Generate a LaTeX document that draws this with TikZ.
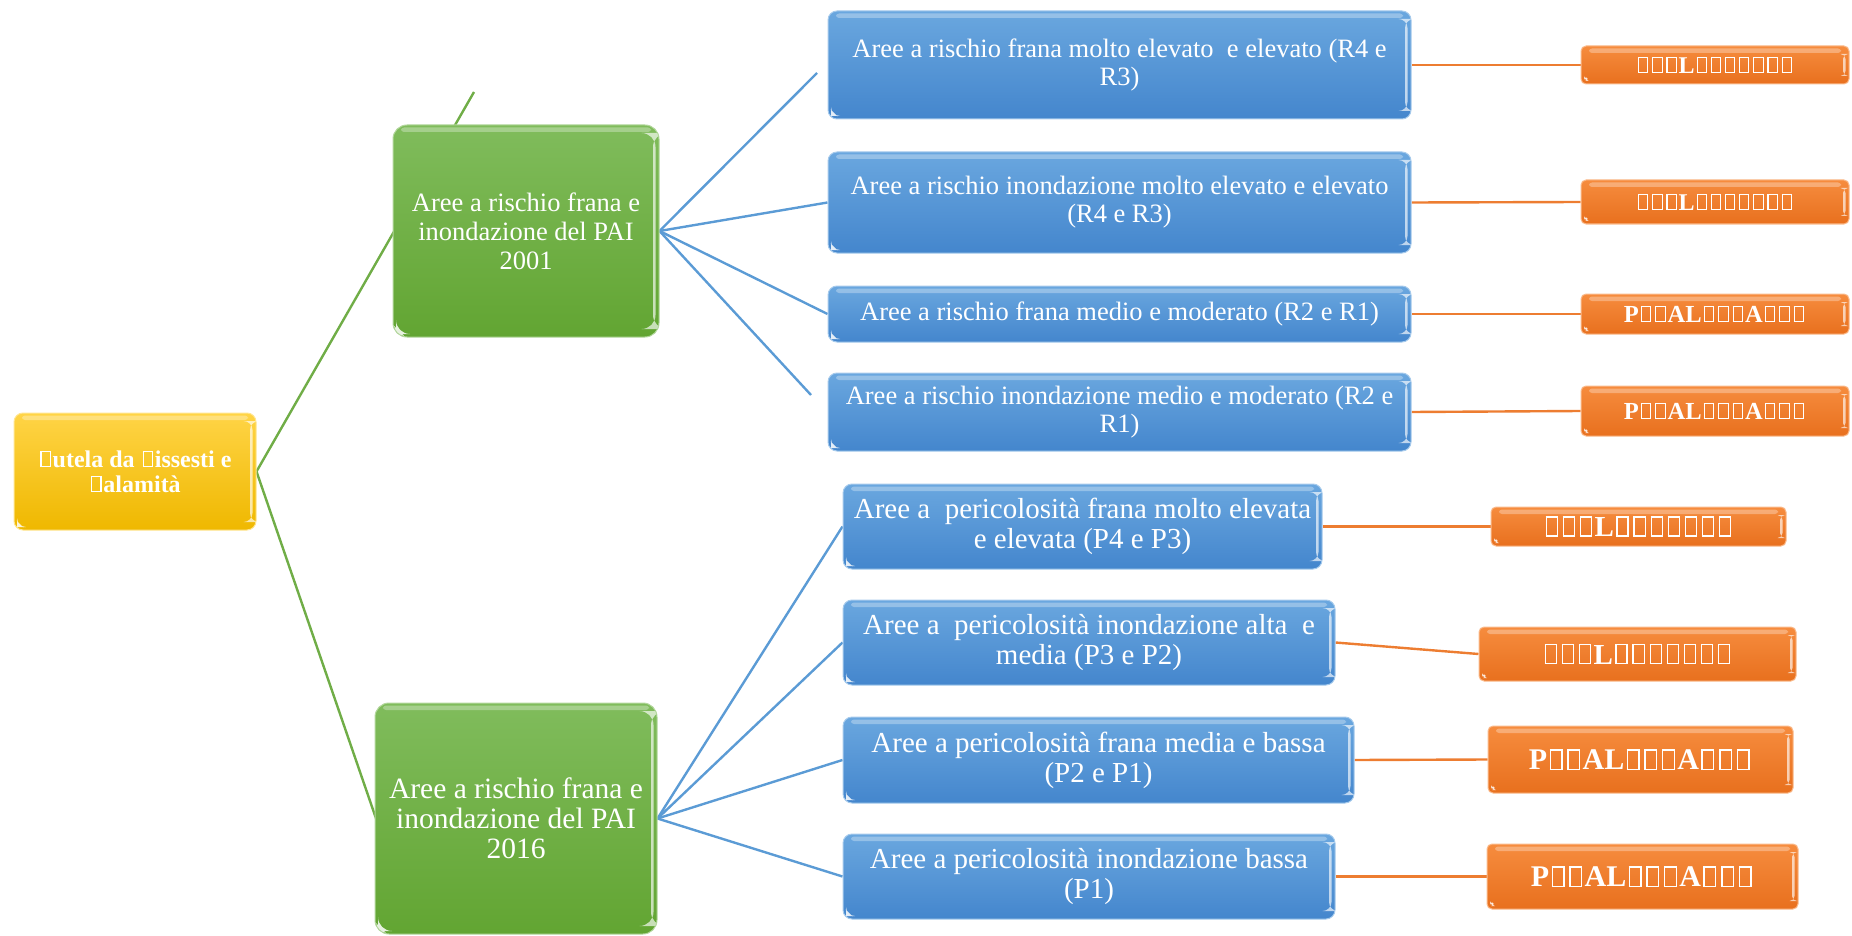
\documentclass[tikz,border=0pt]{standalone}
\usepackage{fontspec}
\setmainfont{Liberation Serif}
\pgfdeclarelayer{background}
\pgfsetlayers{background,main}
% hollow placeholder glyph
\newcommand\nog{\leavevmode\kern0.08em\vbox{\hrule height .045em\hbox{\vrule width .045em height .6em\kern.34em\vrule width .045em}\hrule height .045em}\kern0.08em}
\definecolor{bluetop}{HTML}{6AA7DF}
\definecolor{bluebot}{HTML}{4486CD}
\definecolor{blueline}{HTML}{5B9BD5}
\definecolor{greentop}{HTML}{80BC5C}
\definecolor{greenbot}{HTML}{62A532}
\definecolor{greenline}{HTML}{70AD47}
\definecolor{goldtop}{HTML}{FFD446}
\definecolor{goldbot}{HTML}{EFB800}
\definecolor{orangetop}{HTML}{F68C3E}
\definecolor{orangebot}{HTML}{E8701E}
\definecolor{orangeline}{HTML}{ED7D31}
\tikzset{
  bevel/.style={path picture={
    \fill[white,opacity=.30,rounded corners=3pt] ([xshift=8pt,yshift=-2.5pt]path picture bounding box.north west) rectangle ([xshift=-8pt,yshift=-7pt]path picture bounding box.north east);
    \fill[white,opacity=.65] ([xshift=-6pt,yshift=-8pt]path picture bounding box.north east) rectangle ([xshift=-3.5pt,yshift=8pt]path picture bounding box.south east);
    \fill[white,opacity=.85] ([xshift=3pt,yshift=3pt]path picture bounding box.south west) -- ++(6pt,0) -- ++(-6pt,6pt) -- cycle;
  }},
  card/.style={rounded corners=9pt, line width=1pt, text=white, align=center, inner sep=2pt, bevel},
  bluebox/.style={card, top color=bluetop, bottom color=bluebot, draw=bluetop!60!white},
  greenbox/.style={card, top color=greentop, bottom color=greenbot, draw=greentop!60!white, rounded corners=14pt},
  goldbox/.style={card, top color=goldtop, bottom color=goldbot, draw=goldtop!60!white, font=\bfseries\fontsize{24}{25}\selectfont},
  orangebox/.style={card, top color=orangetop, bottom color=orangebot, draw=orangetop!60!white, rounded corners=5pt, font=\bfseries},
  link/.style={line width=2.4pt},
  bluetxt/.style={font=\fontsize{26.5}{28}\selectfont},
  bluetxtb/.style={font=\fontsize{29}{30}\selectfont},
}
\begin{document}
\begin{tikzpicture}[x=1pt,y=-1pt]
\useasboundingbox (0,0) rectangle (1852,936);

% root
\node[goldbox, minimum width=242pt, minimum height=117pt] (root) at (135,471.5)
  {\nog utela da \nog issesti e\\\nog alamità};

% second level
\node[greenbox, minimum width=266pt, minimum height=212pt, font=\fontsize{26.5}{29}\selectfont] (g1) at (526,231)
  {Aree a rischio frana e\\inondazione del PAI\\2001};
\node[greenbox, minimum width=282pt, minimum height=231pt, font=\fontsize{29.5}{30}\selectfont] (g2) at (516,818.5)
  {Aree a rischio frana e\\inondazione del PAI\\2016};

% PAI 2001 classes
\node[bluebox, bluetxt, minimum width=583pt, minimum height=108pt] (b1) at (1119.5,65)
  {Aree a rischio frana molto elevato~ e elevato (R4 e\\R3)};
\node[bluebox, bluetxt, minimum width=583pt, minimum height=101pt] (b2) at (1119.5,202.5)
  {Aree a rischio inondazione molto elevato e elevato\\(R4 e R3)};
\node[bluebox, bluetxt, minimum width=583pt, minimum height=56pt] (b3) at (1119.5,314)
  {Aree a rischio frana medio e moderato (R2 e R1)};
\node[bluebox, bluetxt, minimum width=583pt, minimum height=78pt] (b4) at (1119.5,412)
  {Aree a rischio inondazione medio e moderato (R2 e\\R1)};

% PAI 2016 classes
\node[bluebox, bluetxtb, minimum width=479pt, minimum height=85pt] (c1) at (1082.5,526.5)
  {Aree a~ pericolosità frana molto elevata\\e elevata (P4 e P3)};
\node[bluebox, bluetxtb, minimum width=492pt, minimum height=85pt] (c2) at (1089,642.5)
  {Aree a~ pericolosità inondazione alta~ e\\media (P3 e P2)};
\node[bluebox, bluetxtb, minimum width=511pt, minimum height=86pt] (c3) at (1098.5,760)
  {Aree a pericolosità frana media e bassa\\(P2 e P1)};
\node[bluebox, bluetxtb, minimum width=492pt, minimum height=85pt] (c4) at (1089,876.5)
  {Aree a pericolosità inondazione bassa\\(P1)};

% outcome tags
\node[orangebox, minimum width=268pt, minimum height=38pt, font=\bfseries\fontsize{24}{25}\selectfont] (o1) at (1715,65)
  {\nog\nog\nog L\nog\nog\nog\nog\nog\nog\nog};
\node[orangebox, minimum width=268pt, minimum height=44pt, font=\bfseries\fontsize{24}{25}\selectfont] (o2) at (1715,202)
  {\nog\nog\nog L\nog\nog\nog\nog\nog\nog\nog};
\node[orangebox, minimum width=268pt, minimum height=40pt, font=\bfseries\fontsize{24.5}{25}\selectfont] (o3) at (1715,314)
  {P\nog\nog AL\nog\nog\nog A\nog\nog\nog};
\node[orangebox, minimum width=268pt, minimum height=50pt, font=\bfseries\fontsize{24.5}{25}\selectfont] (o4) at (1715,411)
  {P\nog\nog AL\nog\nog\nog A\nog\nog\nog};
\node[orangebox, minimum width=295pt, minimum height=39pt, font=\bfseries\fontsize{29}{30}\selectfont] (o5) at (1638.5,526.5)
  {\nog\nog\nog L\nog\nog\nog\nog\nog\nog\nog};
\node[orangebox, minimum width=317pt, minimum height=54pt, font=\bfseries\fontsize{29}{30}\selectfont] (o6) at (1637.5,654)
  {\nog\nog\nog L\nog\nog\nog\nog\nog\nog\nog};
\node[orangebox, minimum width=305pt, minimum height=67pt, font=\bfseries\fontsize{30}{32}\selectfont] (o7) at (1640.5,759.5)
  {P\nog\nog AL\nog\nog\nog A\nog\nog\nog};
\node[orangebox, minimum width=311pt, minimum height=65pt, font=\bfseries\fontsize{30}{32}\selectfont] (o8) at (1642.5,876.5)
  {P\nog\nog AL\nog\nog\nog A\nog\nog\nog};

% loose ends of the connectors
\coordinate (g1top) at (474,92);
\coordinate (g2in) at (380,830);
\coordinate (b1end) at (817,73);
\coordinate (b4end) at (811,395);

\begin{pgfonlayer}{background}
  \draw[link, greenline] (root.east) -- (g1top);
  \draw[link, greenline] (root.east) -- (g2in);
  \draw[link, blueline] (g1.east) -- (b1end);
  \draw[link, blueline] (g1.east) -- (b2.west);
  \draw[link, blueline] (g1.east) -- (b3.west);
  \draw[link, blueline] (g1.east) -- (b4end);
  \foreach \t in {c1,c2,c3,c4}
    \draw[link, blueline] (g2.east) -- (\t.west);
  \foreach \s/\t in {b1/o1,b2/o2,b3/o3,b4/o4,c1/o5,c2/o6,c3/o7,c4/o8}
    \draw[link, orangeline] (\s.east) -- (\t.west);
\end{pgfonlayer}
\end{tikzpicture}
\end{document}
